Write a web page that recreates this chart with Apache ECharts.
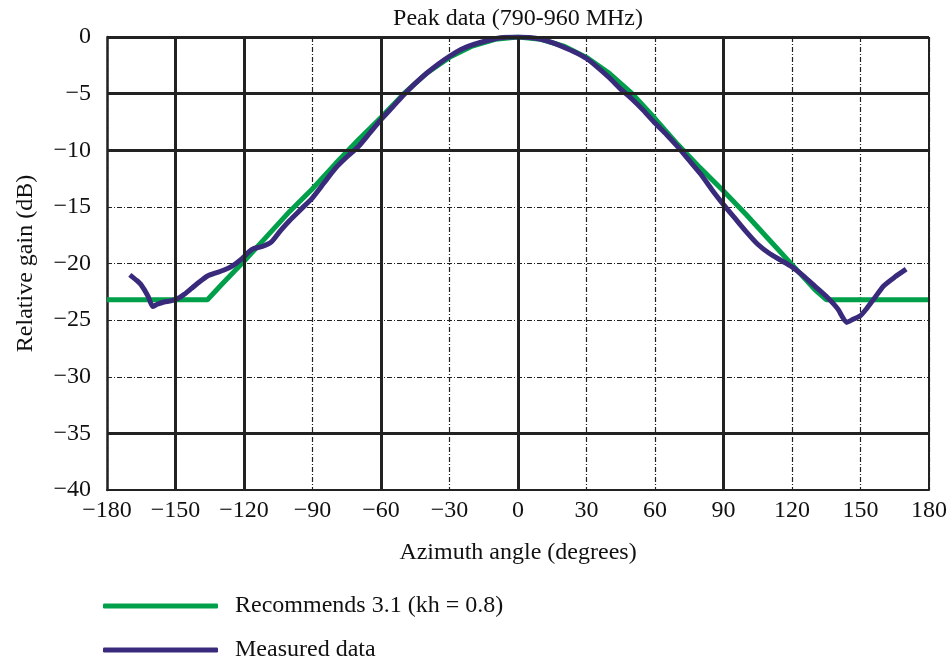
<!DOCTYPE html>
<html>
<head>
<meta charset="utf-8">
<script src="https://cdn.jsdelivr.net/npm/echarts@6/dist/echarts.min.js"></script>
<style>html,body{margin:0;padding:0;background:#fff}#c{width:952px;height:662px}</style>
</head>
<body>
<div id="c"></div>
<script>
var xTicks = [-180, -150, -120, -90, -60, -30, 0, 30, 60, 90, 120, 150, 180];
var yTicks = [0, -5, -10, -15, -20, -25, -30, -35, -40];
var majorX = [-150, -120, -60, 0, 90];
var majorY = [0, -5, -10, -35];

var recAngles = [-180, -136, -130, -120, -110, -100, -90, -80, -70, -60, -50, -40, -30, -20, -10, 0, 10, 20, 30, 40, 50, 60, 70, 80, 90, 100, 110, 120, 130, 135, 180];
var recGain = [-23.2, -23.2, -21.9, -19.8, -17.6, -15.4, -13.4, -11.2, -9.1, -7.1, -5.0, -3.2, -1.8, -0.8, -0.2, 0, -0.2, -0.8, -1.8, -3.2, -5.0, -7.2, -9.5, -11.6, -13.6, -15.7, -17.9, -20.1, -22.3, -23.2, -23.2];

var measAngles = [-170, -167, -165, -162, -160, -158, -155, -152, -149, -146, -143, -140, -136, -132, -129, -125, -121, -118, -116, -112, -108, -104, -100, -95, -90, -85, -80, -75, -70, -65, -60, -55, -50, -45, -40, -35, -30, -25, -20, -15, -10, -5, 0, 5, 10, 15, 20, 25, 30, 35, 40, 45, 50, 55, 60, 65, 70, 75, 80, 85, 90, 95, 100, 105, 110, 115, 120, 125, 130, 135, 140, 144, 147, 150, 153, 156, 160, 165, 170];
var measGain = [-21.0, -21.5, -21.9, -22.9, -23.8, -23.6, -23.4, -23.3, -23.1, -22.7, -22.2, -21.7, -21.1, -20.8, -20.6, -20.2, -19.6, -19.0, -18.7, -18.5, -18.1, -17.1, -16.2, -15.2, -14.2, -12.9, -11.6, -10.6, -9.7, -8.5, -7.3, -6.2, -5.1, -4.1, -3.2, -2.4, -1.7, -1.1, -0.7, -0.4, -0.15, -0.03, 0, -0.05, -0.2, -0.5, -0.9, -1.35, -1.9, -2.7, -3.6, -4.6, -5.5, -6.5, -7.6, -8.6, -9.7, -10.9, -12.1, -13.5, -14.8, -16.0, -17.2, -18.3, -19.1, -19.7, -20.3, -21.1, -22.0, -22.9, -24.0, -25.2, -24.9, -24.6, -23.9, -23.1, -22.0, -21.2, -20.5];

var names = ['Recommends 3.1 (kh = 0.8)', 'Measured data'];
var colors = ['#00a04b', '#3a2a7c'];

function zip(a, b) { return a.map(function (v, i) { return [v, b[i]]; }); }
function fmt(v) { return String(v).replace('-', '\u2212'); }

var font = 'Liberation Serif';
var fs = 24;
var gridColor = '#222';

var markData = [];
majorX.forEach(function (v) { markData.push({ xAxis: v }); });
majorY.forEach(function (v) { markData.push({ yAxis: v }); });

var chart = echarts.init(document.getElementById('c'), null, { renderer: 'canvas' });
chart.setOption({
  animation: false,
  backgroundColor: '#fff',
  textStyle: { fontFamily: font, color: '#111' },
  title: {
    text: 'Peak data (790-960 MHz)',
    left: 513, top: 2, textAlign: 'center',
    textStyle: { fontFamily: font, fontSize: fs, fontWeight: 'normal', color: '#111' }
  },
  grid: { left: 107, right: 23, top: 37, bottom: 172 },
  xAxis: {
    type: 'value', min: -180, max: 180, interval: 30,
    name: 'Azimuth angle (degrees)', nameLocation: 'middle', nameGap: 51,
    nameTextStyle: { fontFamily: font, fontSize: fs, color: '#111' },
    axisLine: { show: true, onZero: false, lineStyle: { color: gridColor, width: 2 } },
    axisTick: { show: false },
    axisLabel: { fontFamily: font, fontSize: fs, color: '#111', margin: 9, formatter: fmt },
    splitLine: { show: true, lineStyle: { color: gridColor, width: 1.2, type: [5, 2, 1, 2] } }
  },
  yAxis: {
    type: 'value', min: -40, max: 0, interval: 5,
    name: 'Relative gain (dB)', nameLocation: 'middle', nameGap: 69, nameRotate: 90,
    nameTextStyle: { fontFamily: font, fontSize: fs, color: '#111' },
    axisLine: { show: true, onZero: false, lineStyle: { color: gridColor, width: 2.5 } },
    axisTick: { show: false },
    axisLabel: { fontFamily: font, fontSize: fs, color: '#111', margin: 16, formatter: fmt },
    splitLine: { show: true, lineStyle: { color: gridColor, width: 1.2, type: [5, 2, 1, 2] } }
  },
  legend: [
    {
      data: [names[0]], orient: 'vertical', left: 98, top: 589,
      icon: 'roundRect', itemWidth: 115, itemHeight: 5,
      textStyle: { fontFamily: font, fontSize: fs, color: '#111', padding: [0, 0, 0, 12] }
    },
    {
      data: [names[1]], orient: 'vertical', left: 98, top: 633,
      icon: 'roundRect', itemWidth: 115, itemHeight: 5,
      textStyle: { fontFamily: font, fontSize: fs, color: '#111', padding: [0, 0, 0, 12] }
    }
  ],
  series: [
    {
      type: 'line', name: '_grid', data: [], z: 1, silent: true,
      markLine: {
        silent: true, symbol: 'none', label: { show: false },
        lineStyle: { color: gridColor, width: 3, type: 'solid' },
        data: markData.concat([{ xAxis: 180, lineStyle: { width: 2 } }])
      }
    },
    {
      type: 'line', name: names[0], data: zip(recAngles, recGain), z: 3,
      showSymbol: false, symbol: 'none',
      lineStyle: { color: colors[0], width: 5 }, itemStyle: { color: colors[0] }
    },
    {
      type: 'line', name: names[1], data: zip(measAngles, measGain), z: 4,
      showSymbol: false, symbol: 'none', smooth: 0.2,
      lineStyle: { color: colors[1], width: 5 }, itemStyle: { color: colors[1] }
    }
  ]
});
</script>
</body>
</html>
